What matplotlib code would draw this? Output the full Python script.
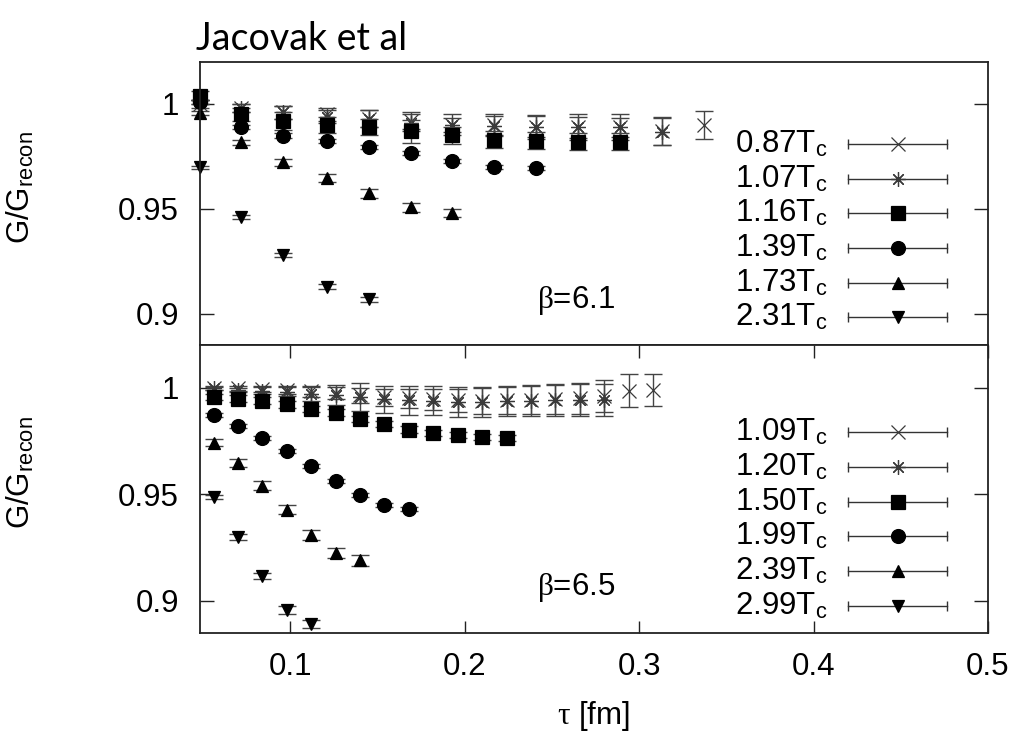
import matplotlib
matplotlib.use('Agg')
import matplotlib.pyplot as plt

plt.rcParams['font.family'] = ['Liberation Sans', 'DejaVu Sans']
plt.rcParams['mathtext.fontset'] = 'custom'
plt.rcParams['mathtext.rm'] = 'Liberation Serif'
plt.rcParams['mathtext.it'] = 'Liberation Serif:italic'

# tau values [fm] for each lattice
tau_61 = [0.048, 0.072, 0.096, 0.121, 0.145, 0.169, 0.193, 0.217, 0.241,
          0.265, 0.289, 0.313, 0.337]
tau_65 = [0.056, 0.070, 0.084, 0.098, 0.112, 0.126, 0.140, 0.154, 0.168,
          0.182, 0.196, 0.210, 0.224, 0.238, 0.252, 0.266, 0.280, 0.294, 0.308]

# beta = 6.1
labels_61 = ['0.87', '1.07', '1.16', '1.39', '1.73', '2.31']
g_61 = [
    [1.000, 0.998, 0.996, 0.995, 0.993, 0.992, 0.990, 0.990, 0.989, 0.989, 0.989, 0.987, 0.990],
    [1.001, 0.998, 0.996, 0.994, 0.993, 0.991, 0.990, 0.9896, 0.9892, 0.9888, 0.9888, 0.9868],
    [1.004, 0.995, 0.992, 0.990, 0.989, 0.987, 0.985, 0.983, 0.9825, 0.982, 0.982],
    [1.001, 0.9888, 0.9849, 0.9822, 0.9796, 0.9764, 0.9728, 0.9701, 0.9696],
    [0.9955, 0.9817, 0.9721, 0.9647, 0.9573, 0.9506, 0.9479],
    [0.9697, 0.9462, 0.9280, 0.9129, 0.9069],
]
err_61 = [
    [0.002, 0.002, 0.003, 0.003, 0.004, 0.004, 0.005, 0.005, 0.0055, 0.006, 0.006, 0.0066, 0.0066],
    [0.001, 0.002, 0.003, 0.003, 0.004, 0.004, 0.0035, 0.0047, 0.005, 0.005, 0.0045, 0.0066],
    [0.002, 0.003, 0.0043, 0.004, 0.004, 0.0055, 0.004, 0.004, 0.004, 0.004, 0.004],
    [0.001, 0.001, 0.001, 0.001, 0.001, 0.001, 0.001, 0.001, 0.001],
    [0.001, 0.0012, 0.0015, 0.0018, 0.002, 0.002, 0.002],
    [0.0008, 0.001, 0.001, 0.001, 0.0012],
]

# beta = 6.5
labels_65 = ['1.09', '1.20', '1.50', '1.99', '2.39', '2.99']
g_65 = [
    [0.9998, 0.9996, 0.9993, 0.9988, 0.9982, 0.9975, 0.9965, 0.9955, 0.9950, 0.9945,
     0.9940, 0.9938, 0.9940, 0.9942, 0.9945, 0.9950, 0.9960, 0.9986, 0.9989],
    [0.9997, 0.9989, 0.9986, 0.9981, 0.9970, 0.9965, 0.9957, 0.9945, 0.9941, 0.9939,
     0.9934, 0.9934, 0.9939, 0.9939, 0.9941, 0.9941, 0.9941],
    [0.9957, 0.9949, 0.9939, 0.9921, 0.9899, 0.9883, 0.9852, 0.9828, 0.9803, 0.9787,
     0.9779, 0.9769, 0.9764],
    [0.9871, 0.9819, 0.9765, 0.9702, 0.9632, 0.9561, 0.9497, 0.9449, 0.9430],
    [0.9742, 0.9647, 0.9540, 0.9427, 0.9307, 0.9225, 0.9189],
    [0.9488, 0.9299, 0.9115, 0.8957, 0.8890],
]
err_65 = [
    [0.0008, 0.001, 0.0015, 0.002, 0.0025, 0.003, 0.0035, 0.004, 0.0045, 0.005,
     0.0055, 0.006, 0.0065, 0.0068, 0.007, 0.0072, 0.0074, 0.0076, 0.0075],
    [0.0008, 0.001, 0.0015, 0.002, 0.0035, 0.0047, 0.0067, 0.0065, 0.0068, 0.0068,
     0.007, 0.007, 0.007, 0.0073, 0.0073, 0.0074, 0.0075],
    [0.0015] * 13,
    [0.001] * 9,
    [0.0015, 0.0018, 0.002, 0.0022, 0.0024, 0.0024, 0.0024],
    [0.001, 0.0012, 0.0015, 0.0018, 0.002],
]

# gnuplot-like point types: x, *, filled square, circle, triangles
markers = ['x', (8, 2, 0), 's', 'o', '^', 'v']
msizes = [10.5, 10.5, 10.5, 10, 9, 9]
mcolors = ['#3a3a3a', '#3a3a3a', 'k', 'k', 'k', 'k']


def draw_panel(ax, tau, gs, errs, labels, beta):
    for g, e, mk, ms, mc in zip(gs, errs, markers, msizes, mcolors):
        x = tau[:len(g)]
        eb = ax.errorbar(x, g, yerr=e, fmt='none', ecolor='#444', elinewidth=1,
                         capsize=6.5, capthick=1)
        for art in eb.lines[1] + eb.lines[2]:
            art.set_clip_on(False)
        ax.plot(x, g, ls='none', marker=mk, ms=ms, color=mc, mew=0.9,
                clip_on=False)

    # key with horizontal error-bar samples
    y0 = 0.71 if beta == '6.1' else 0.697
    dy = 0.1225 if beta == '6.1' else 0.1205
    for i, (lab, mk, ms, mc) in enumerate(zip(labels, markers, msizes, mcolors)):
        y = y0 - i * dy
        ax.text(0.796, y - 0.03, lab + r'T$_\mathregular{c}$', transform=ax.transAxes,
                ha='right', va='baseline', fontsize=22.5)
        ax.plot([0.822, 0.9476], [y, y], transform=ax.transAxes, color='#333',
                lw=1, marker='|', ms=7, mew=1, clip_on=False)
        ax.plot([0.8854], [y], transform=ax.transAxes, ls='none', marker=mk,
                ms=ms, color=mc, mew=0.9, clip_on=False)

    ax.text(0.2417, 0.906, r'$\mathrm{\beta}$=' + beta, ha='left', va='center',
            fontsize=22.5)

    ax.set_xlim(0.0482, 0.5)
    ax.set_ylim(0.885, 1.02)
    ax.set_yticks([0.9, 0.95, 1])
    ax.set_yticklabels(['0.9', '0.95', '1'])
    ax.set_xticks([0.1, 0.2, 0.3, 0.4, 0.5])
    ax.set_xticklabels(['0.1', '0.2', '0.3', '0.4', '0.5'])
    ax.tick_params(direction='in', length=10, width=1, labelsize=22.5,
                   left=True, right=True, pad=15, color='#222')
    ax.tick_params(axis='x', length=9, pad=14)
    for s in ax.spines.values():
        s.set_linewidth(1.3)
        s.set_color('#222')
    ax.set_ylabel(r'G/G$_\mathregular{recon}$', fontsize=22.5)
    ax.yaxis.set_label_coords(-0.207, 0.555)


fig = plt.figure(figsize=(10.2, 7.38), dpi=100)
ax1 = fig.add_axes([0.196, 0.5325, 0.7726, 0.3835])
ax2 = fig.add_axes([0.196, 0.1427, 0.7726, 0.3898])

draw_panel(ax1, tau_61, g_61, err_61, labels_61, '6.1')
draw_panel(ax2, tau_65, g_65, err_65, labels_65, '6.5')

ax1.tick_params(axis='x', bottom=False, top=False, labelbottom=False)
ax2.tick_params(axis='x', bottom=True, top=True)
ax2.set_xlabel(r'$\mathrm{\tau}$ [fm]', fontsize=22.5, labelpad=12)

fig.text(0.192, 0.932, 'Jacovak et al', family='Lato', fontsize=27,
         va='baseline', ha='left')

fig.savefig('out.png', dpi=100)
